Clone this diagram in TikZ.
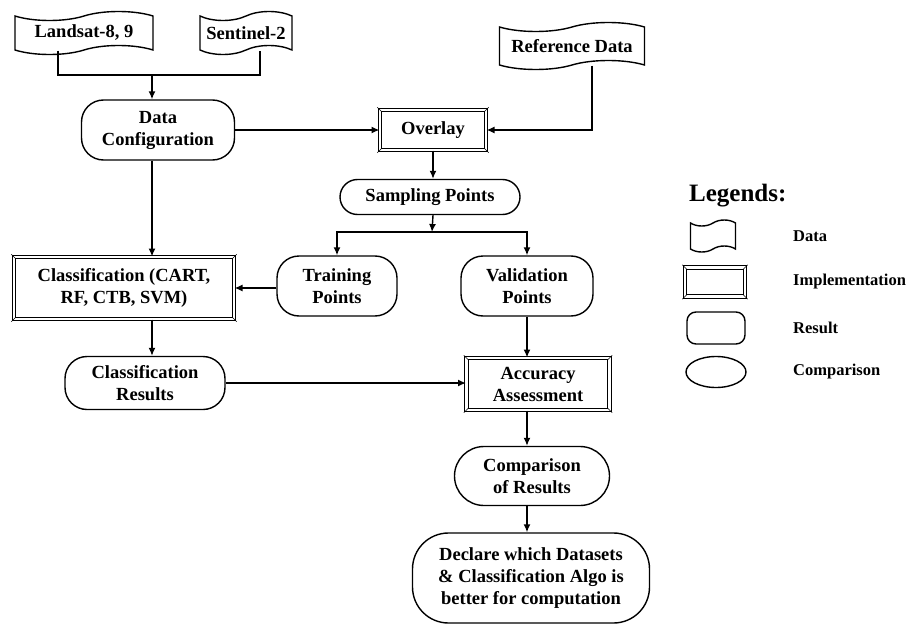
\documentclass[tikz,border=0pt]{standalone}
\usepackage{fontspec}
\setmainfont{Liberation Serif}
\usetikzlibrary{positioning,shapes.symbols,shapes.misc,shapes.geometric,arrows.meta}

\tikzset{
  base/.style={font=\bfseries\fontsize{18.5}{22}\selectfont, align=center, line width=1.4pt, inner sep=2pt},
  data/.style={base, draw, tape, tape bend top=in and out, tape bend bottom=in and out, tape bend height=9pt},
  impl/.style={base, draw, double, double distance=2.8pt, line width=1pt},
  result/.style={base, draw, rounded corners=22pt},
  comparison/.style={base, draw, rounded rectangle},
  legtext/.style={font=\bfseries\fontsize{16.5}{20}\selectfont, anchor=west, inner sep=0pt},
  link/.style={line width=1.4pt, ->},
}

\begin{document}
\begin{tikzpicture}[x=1pt, y=-1pt, >={Latex[length=8pt,width=7pt]}]
  \useasboundingbox (0,0) rectangle (910,626);

  % inputs
  \node[data, minimum width=138pt, minimum height=43pt] (land) at (84,33) {Landsat-8, 9};
  \node[data, minimum width=92pt, minimum height=43pt] (sent) at (246,33) {Sentinel-2};
  \node[data, minimum width=145pt, minimum height=47pt] (ref) at (572,46) {Reference Data};

  % main flow
  \node[result, minimum width=153pt, minimum height=60pt] (datacfg) at (158,130) {Data\\Configuration};
  \node[impl, minimum width=106pt, minimum height=40pt] (overlay) at (433,130) {Overlay};
  \node[comparison, minimum width=184pt, minimum height=35pt] (sampling) at (430,197) {Sampling Points};
  \node[result, minimum width=120pt, minimum height=60pt] (training) at (337,286) {Training\\Points};
  \node[result, minimum width=132pt, minimum height=60pt] (validation) at (527,286) {Validation\\Points};
  \node[impl, minimum width=220pt, minimum height=62pt] (classif) at (124,288) {Classification (CART,\\RF, CTB, SVM)};
  \node[result, minimum width=160pt, minimum height=53pt] (clsres) at (145,383) {Classification\\Results};
  \node[impl, minimum width=143pt, minimum height=52pt] (accur) at (538,384) {Accuracy\\Assessment};
  \node[comparison, minimum width=159pt, minimum height=59pt] (compar) at (532,476) {Comparison\\of Results};
  \node[result, rounded corners=36pt, minimum width=237pt, minimum height=90pt] (declare) at (531,578) {Declare which Datasets\\\& Classification Algo is\\better for computation};

  % connectors
  \coordinate (joinA) at (152,75);
  \coordinate (split) at (432,232);
  \draw[line width=1.4pt] ([xshift=-26pt]land.south) |- (joinA) -| ([xshift=14pt]sent.south);
  \draw[link] (joinA) -- (joinA |- datacfg.north);
  \draw[link] (datacfg.east |- overlay.west) -- (overlay.west);
  \draw[link] ([xshift=20pt]ref.south) |- (overlay.east);
  \draw[link] (overlay.south) -- (overlay.south |- sampling.north);
  \draw[link] (overlay.south |- sampling.south) -- (split);
  \draw[link] (split) -| (training.north);
  \draw[link] (split) -| (validation.north);
  \draw[link] (joinA |- datacfg.south) -- (joinA |- classif.north);
  \draw[link] (training.west |- classif.east) -- (classif.east);
  \draw[link] (joinA |- classif.south) -- (joinA |- clsres.north);
  \draw[link] (clsres.east) -- (accur.west |- clsres.east);
  \draw[link] (validation.south) -- (validation.south |- accur.north);
  \draw[link] (validation.south |- accur.south) -- (validation.south |- compar.north);
  \draw[link] (validation.south |- compar.south) -- (validation.south |- declare.north);

  % legend
  \node[font=\bfseries\fontsize{25}{30}\selectfont, anchor=west, inner sep=0pt] (legtitle) at (689,196) {Legends:};
  \node[data, tape bend height=6pt, minimum width=45pt, minimum height=32pt] (legdata) at (713,236) {};
  \node[impl, minimum width=60pt, minimum height=29pt] (legimpl) at (715,282) {};
  \node[base, draw, rounded corners=9pt, minimum width=58pt, minimum height=32pt] (legres) at (716,328) {};
  \node[base, draw, ellipse, minimum width=60pt, minimum height=31pt] (legcmp) at (716,372) {};
  \node[legtext] (legdatatxt) at (793,236) {Data};
  \node[legtext] (legimpltxt) at (793,282) {Implementation};
  \node[legtext] (legrestxt) at (793,328) {Result};
  \node[legtext] (legcmptxt) at (793,372) {Comparison};

  % bevelled corners of the implementation boxes
  \foreach \n in {overlay,classif,accur,legimpl} {
    \draw[line width=0.6pt] ([shift={(-2.2pt,2.2pt)}]\n.north west) -- ([shift={(2.2pt,-2.2pt)}]\n.north west);
    \draw[line width=0.6pt] ([shift={(2.2pt,2.2pt)}]\n.north east) -- ([shift={(-2.2pt,-2.2pt)}]\n.north east);
    \draw[line width=0.6pt] ([shift={(-2.2pt,-2.2pt)}]\n.south west) -- ([shift={(2.2pt,2.2pt)}]\n.south west);
    \draw[line width=0.6pt] ([shift={(2.2pt,-2.2pt)}]\n.south east) -- ([shift={(-2.2pt,2.2pt)}]\n.south east);
  }
\end{tikzpicture}
\end{document}
